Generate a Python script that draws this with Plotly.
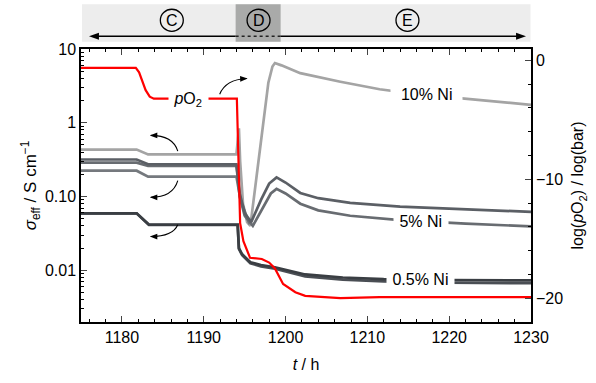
import plotly.graph_objects as go

# ---- time axis data (h) and effective conductivities (S/cm) ----
t_ni10 = [1175, 1181.8, 1183.2, 1194.0, 1194.3, 1194.45, 1194.8, 1195.3, 1195.7,
          1196.9, 1197.9, 1198.4, 1198.7, 1199.5, 1201.8, 1206.7, 1211.5, 1216, 1222.5, 1230]
s_ni10 = [0.433, 0.433, 0.372, 0.372, 0.84, 0.30, 0.08, 0.045, 0.040,
          0.456, 3.5, 5.8, 6.46, 6.0, 4.7, 3.6, 2.85, 2.45, 2.1, 1.75]

t_ni5a = [1175, 1181.8, 1183.2, 1194.0, 1194.4, 1195.0, 1195.8, 1197.0, 1198.0,
          1198.9, 1200, 1201.8, 1204, 1207.9, 1214, 1222, 1230]
s_ni5a = [0.318, 0.318, 0.274, 0.274, 0.11, 0.06, 0.045, 0.09, 0.15,
          0.182, 0.155, 0.112, 0.095, 0.082, 0.073, 0.067, 0.062]

t_ni5b = [1175, 1181.8, 1183.2, 1194.0, 1194.4, 1195.0, 1196.0, 1197.2, 1198.2,
          1198.9, 1200, 1201.8, 1204, 1207.9, 1214, 1222, 1230]
s_ni5b = [0.288, 0.288, 0.26, 0.26, 0.10, 0.055, 0.040, 0.07, 0.11,
          0.127, 0.11, 0.08, 0.065, 0.055, 0.048, 0.043, 0.0394]

t_ni5c = [1175, 1181.8, 1183.2, 1194.0, 1194.5, 1195.6]
s_ni5c = [0.224, 0.224, 0.186, 0.186, 0.09, 0.042]

t_ni05 = [1175, 1181.8, 1183.3, 1194.15, 1194.3, 1194.7, 1195.7, 1197, 1198.7,
          1200, 1202.4, 1207, 1212, 1220, 1230]
s_ni05a = [0.0593, 0.0593, 0.0417, 0.0417, 0.020, 0.0165, 0.0129, 0.0118, 0.011,
           0.0102, 0.0088, 0.0080, 0.0076, 0.0074, 0.0073]
s_ni05b = [0.0593, 0.0593, 0.0412, 0.0412, 0.0195, 0.016, 0.0125, 0.0113, 0.0105,
           0.0096, 0.0083, 0.0075, 0.0071, 0.0068, 0.0067]

# ---- oxygen partial pressure, log(pO2 / bar) ----
t_po2 = [1175, 1181.7, 1182.1, 1182.9, 1183.4, 1183.9, 1194.05, 1194.25, 1194.45,
         1194.85, 1195.66, 1197.1, 1198.0, 1198.7, 1199.7, 1201.2, 1202.4, 1206.7,
         1211.5, 1220, 1230]
log_po2 = [-0.62, -0.62, -1.0, -2.5, -3.05, -3.22, -3.22, -8.0, -13.7,
           -15.2, -16.6, -16.7, -17.0, -17.5, -18.8, -19.5, -19.8, -20.0,
           -19.9, -19.9, -19.9]

# ---- regime markers ----
regimes = ["C", "D", "E"]
regime_t = [1186.1, 1196.7, 1214.9]
regime_d = [1193.9, 1199.4]

FONT = "Liberation Sans, Arial, sans-serif"
L, R, T, B = 81, 64, 49, 56
W, H = 596, 383
PW, PH = W - L - R, H - T - B
X0, X1 = 1175, 1230


def px(x):
    return (x - L) / PW


def py(y):
    return (H - B - y) / PH


def tx(t):
    return L + (t - X0) / (X1 - X0) * PW


fig = go.Figure()

gray_traces = [
    (t_ni10, s_ni10, "#a4a4a4", "10% Ni"),
    (t_ni5c, s_ni5c, "#75797e", "5% Ni c"),
    (t_ni5b, s_ni5b, "#686c71", "5% Ni b"),
    (t_ni5a, s_ni5a, "#5b5f65", "5% Ni a"),
    (t_ni05, s_ni05b, "#4a4e54", "0.5% Ni b"),
    (t_ni05, s_ni05a, "#3a3e43", "0.5% Ni a"),
]
for tt, ss, col, name in gray_traces:
    fig.add_trace(go.Scatter(x=tt, y=ss, mode="lines", name=name,
                             line=dict(color=col, width=2.7), yaxis="y"))

fig.add_trace(go.Scatter(x=t_po2, y=log_po2, mode="lines", name="pO2",
                         line=dict(color="#ff0000", width=2.2), yaxis="y2"))

shapes = []
annotations = []

# header band with regimes
shapes.append(dict(type="rect", xref="paper", yref="paper", x0=px(82), x1=px(531.5),
                   y0=py(41.5), y1=py(3.5), fillcolor="#ededed", line_width=0, layer="below"))
shapes.append(dict(type="rect", xref="x", yref="paper", x0=regime_d[0], x1=regime_d[1],
                   y0=py(41.5), y1=py(3.5), fillcolor="#a9aaa9", line_width=0, layer="below"))
ya = py(36)
shapes.append(dict(type="line", xref="paper", yref="paper", x0=px(94), x1=px(tx(regime_d[0])),
                   y0=ya, y1=ya, line=dict(color="black", width=1.6)))
shapes.append(dict(type="line", xref="x", yref="paper", x0=regime_d[0], x1=regime_d[1],
                   y0=ya, y1=ya, line=dict(color="#222222", width=1.6, dash="dot")))
shapes.append(dict(type="line", xref="paper", yref="paper", x0=px(tx(regime_d[1])), x1=px(522),
                   y0=ya, y1=ya, line=dict(color="black", width=1.6)))
# arrowheads of the header line
shapes.append(dict(type="path", xref="paper", yref="paper",
                   path=f"M {px(89)},{ya} L {px(99)},{py(32.5)} L {px(99)},{py(39.5)} Z",
                   fillcolor="black", line_width=0))
shapes.append(dict(type="path", xref="paper", yref="paper",
                   path=f"M {px(527)},{ya} L {px(517)},{py(32.5)} L {px(517)},{py(39.5)} Z",
                   fillcolor="black", line_width=0))
for lab, tc in zip(regimes, regime_t):
    cx = tx(tc)
    shapes.append(dict(type="circle", xref="paper", yref="paper",
                       x0=px(cx - 11.5), x1=px(cx + 11.5), y0=py(31), y1=py(8.5),
                       line=dict(color="black", width=1.3), fillcolor="rgba(0,0,0,0)"))
    annotations.append(dict(x=tc, y=py(19.8), xref="x", yref="paper", text=lab, showarrow=False,
                            xanchor="center", yanchor="middle",
                            font=dict(family=FONT, size=16, color="black")))


def curved_arrow(x0, y0, cx, cy, x1, y1, head=6.5):
    """Quadratic curve from (x0,y0) to (x1,y1) in pixel space with a filled head at the end."""
    shapes.append(dict(type="path", xref="paper", yref="paper",
                       path=f"M {px(x0)},{py(y0)} Q {px(cx)},{py(cy)} {px(x1)},{py(y1)}",
                       line=dict(color="black", width=1.1)))
    dx, dy = x1 - cx, y1 - cy
    n = (dx * dx + dy * dy) ** 0.5
    ux, uy = dx / n, dy / n
    bx, by = x1 - ux * head, y1 - uy * head
    w = head * 0.45
    p1 = (bx - uy * w, by + ux * w)
    p2 = (bx + uy * w, by - ux * w)
    shapes.append(dict(type="path", xref="paper", yref="paper",
                       path=f"M {px(x1 + ux * 1)},{py(y1 + uy * 1)} L {px(p1[0])},{py(p1[1])} "
                            f"L {px(p2[0])},{py(p2[1])} Z",
                       fillcolor="black", line_width=0))


curved_arrow(220, 95, 226, 80, 247, 79)
curved_arrow(178, 153, 173, 137, 151, 137)
curved_arrow(178, 183, 173, 200, 151, 200)
curved_arrow(178, 228, 173, 240, 151, 240)

# series labels
lab_font = dict(family=FONT, size=16, color="black")


def label(xp, yp, text):
    annotations.append(dict(x=px(xp), y=py(yp), xref="paper", yref="paper", text=text,
                            showarrow=False, xanchor="center", yanchor="middle",
                            bgcolor="white", borderpad=1, font=lab_font))


label(189, 100, "\u00a0<i>p</i>O<sub>2</sub>\u00a0")
label(427, 95, "\u00a0\u00a010% Ni\u00a0\u00a0")
label(422, 225, "\u00a05% Ni\u00a0")
label(421, 284, "\u00a00.5% Ni\u00a0")

tick_font = dict(family=FONT, size=16, color="black")
minor_log = [m * 10 ** e for e in (-3, -2, -1, 0) for m in range(2, 10)]

fig.update_layout(
    width=W, height=H,
    margin=dict(l=L, r=R, t=T, b=B),
    paper_bgcolor="white", plot_bgcolor="white",
    showlegend=False,
    font=dict(family=FONT, size=16, color="black"),
    xaxis=dict(range=[X0, X1], dtick=10, tick0=1180, ticks="inside", ticklen=6,
               tickwidth=1.2, showline=True, linecolor="black", linewidth=1.5,
               mirror="ticks", showgrid=False, zeroline=False, tickfont=tick_font,
               minor=dict(ticks="inside", ticklen=3, dtick=2, tick0=1180, tickcolor="black"),
               title=dict(text="<i>t</i> / h", font=dict(family=FONT, size=16), standoff=14)),
    yaxis=dict(type="log", range=[-2.7, 1], tickmode="array",
               tickvals=[0.01, 0.1, 1, 10], ticktext=["0.01", "0.10", "1", "10"],
               ticks="inside", ticklen=6, tickwidth=1.2, showline=True, linecolor="black",
               linewidth=1.5, showgrid=False, zeroline=False, tickfont=tick_font,
               minor=dict(ticks="inside", ticklen=3, tickmode="array", tickvals=minor_log,
                          tickcolor="black"),
               title=dict(text="<i>σ</i><sub>eff</sub> / S cm<sup>−1</sup>",
                          font=dict(family=FONT, size=17), standoff=4)),
    yaxis2=dict(overlaying="y", side="right", range=[-22.0, 0.96], dtick=10, tick0=0,
                ticks="inside", ticklen=6, tickwidth=1.2, showline=True, linecolor="black",
                linewidth=1.5, showgrid=False, zeroline=False, tickfont=tick_font,
                minor=dict(ticks="inside", ticklen=3, dtick=2, tick0=0, tickcolor="black"),
                title=dict(text="log(<i>p</i>O<sub>2</sub>) / log(bar)",
                           font=dict(family=FONT, size=16), standoff=10)),
    shapes=shapes,
    annotations=annotations,
)

fig.write_html("out.html")
